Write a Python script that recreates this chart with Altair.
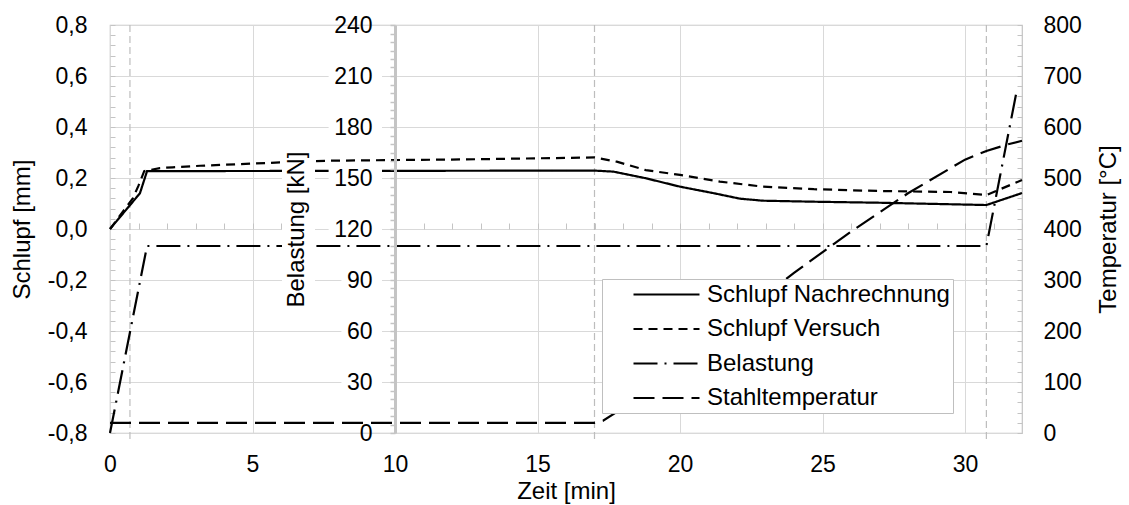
import altair as alt
import pandas as pd

FONT = "Liberation Sans"
FS = 23      # tick labels
FT = 24      # axis titles and legend
X_MAX = 32.0
W, H = 912, 408
GRID = "#d9d9d9"
FRAME = "#c4c4c4"

# ---- data -------------------------------------------------------------
series_names = ["Schlupf Nachrechnung", "Schlupf Versuch", "Belastung", "Stahltemperatur"]
dash_styles = [[1, 0], [9, 6], [24, 7, 2, 7], [21, 8]]

t_nach = [0.0, 0.9, 1.05, 1.3, 17.0, 17.66, 18.8, 20.0, 21.2, 22.1, 22.9, 24.7, 27.0, 30.75, 32.0]
s_nach = [0.0, 0.12, 0.14, 0.227, 0.229, 0.225, 0.199, 0.166, 0.140, 0.119, 0.111, 0.107, 0.103, 0.094, 0.141]

t_vers = [0.0, 0.8, 1.0, 1.2, 1.75, 2.2, 3.16, 5.96, 7.8, 12.5, 16.7, 17.0, 17.78, 18.8, 20.0,
          21.4, 22.9, 24.7, 27.0, 29.5, 30.75, 32.0]
s_vers = [0.0, 0.12, 0.17, 0.227, 0.239, 0.242, 0.248, 0.261, 0.268, 0.273, 0.280, 0.281, 0.264,
          0.231, 0.212, 0.186, 0.166, 0.156, 0.149, 0.145, 0.133, 0.192]

t_bel = [0.0, 1.3, 30.75, 31.8]
kn_bel = [0.0, 110.0, 110.0, 200.0]

t_temp = [0.0, 17.0, 17.3, 17.8, 18.5, 20.0, 22.0, 24.0, 26.0, 28.0, 30.0, 30.75, 31.5, 32.0]
c_temp = [20, 20, 24, 42, 72, 138, 226, 314, 395, 470, 536, 553, 566, 573]

event_times = [0.7, 17.0, 30.75]

schlupf_ticks = [-0.8, -0.6, -0.4, -0.2, 0.0, 0.2, 0.4, 0.6, 0.8]
schlupf_minor = [round(-0.8 + 0.04 * i, 2) for i in range(41)]
zeit_ticks = [0, 5, 10, 15, 20, 25, 30]
zeit_minor = list(range(0, 33))
bel_ticks = list(range(0, 241, 30))
bel_minor = list(range(0, 241, 5))
temp_ticks = list(range(0, 801, 100))
temp_minor = list(range(0, 801, 20))

BEL_AXIS_AT = 10.0  # minutes

# ---- frames -----------------------------------------------------------
df_s = pd.concat([
    pd.DataFrame({"t": t_nach, "v": s_nach, "Serie": series_names[0]}),
    pd.DataFrame({"t": t_vers, "v": s_vers, "Serie": series_names[1]}),
])
df_b = pd.DataFrame({"t": t_bel, "v": kn_bel, "Serie": series_names[2]})
df_t = pd.DataFrame({"t": t_temp, "v": c_temp, "Serie": series_names[3]})
df_ev = pd.DataFrame({"t": event_times})

px_per_min = W / X_MAX
px_per_kn = H / 240.0
axis_px = BEL_AXIS_AT * px_per_min
# white boxes behind the inner axis title and labels (as in the original)
mask_rows = [{"t": (axis_px - 113) / px_per_min, "t2": (axis_px - 80) / px_per_min, "v": 70, "v2": 177}]
for val in bel_ticks[1:-1]:
    w = len(str(val)) * 12.8 + 28
    mask_rows.append({"t": (axis_px - w) / px_per_min, "t2": (axis_px - 13) / px_per_min,
                      "v": val - 10 / px_per_kn, "v2": val + 10 / px_per_kn})
df_mask = pd.DataFrame(mask_rows)

xscale = alt.Scale(domain=[0, X_MAX], nice=False, zero=False)
dash_scale = alt.Scale(domain=series_names, range=dash_styles)
legend = alt.Legend(
    orient="none", legendX=492, legendY=254, title=None,
    symbolType="M-3,0H3", symbolSize=484, symbolStrokeWidth=2.2,
    symbolStrokeColor="black", symbolFillColor="transparent",
    labelFont=FONT, labelFontSize=FT, labelColor="black", labelLimit=500,
    fillColor="white", strokeColor="#bfbfbf", padding=3, rowPadding=9.5,
    symbolOffset=49, labelOffset=28,
)
dash_enc = alt.StrokeDash("Serie:N", scale=dash_scale, legend=legend)

txt = dict(labelFont=FONT, labelFontSize=FS, labelColor="black",
           titleFont=FONT, titleFontSize=FT, titleFontWeight="normal", titleColor="black")

def xenc(axis=None):
    return alt.X("t:Q", scale=xscale, axis=axis)

# vertical dashed marker lines
rules = alt.Chart(df_ev).mark_rule(color="#bdbdbd", strokeDash=[7, 4], strokeWidth=1.2).encode(
    x=xenc(), y=alt.value(0), y2=alt.value(H + 9))

# slip series (left axis)
schlupf = alt.Chart(df_s).mark_line(color="black", strokeWidth=2.2).encode(
    x=xenc(alt.Axis(orient="bottom", values=zeit_ticks, grid=True, gridColor=GRID,
                    ticks=False, tickSize=0, domain=False, labelPadding=20, labelFlush=False,
                    title="Zeit [min]", titlePadding=3, **txt)),
    y=alt.Y("v:Q", scale=alt.Scale(domain=[-0.8, 0.8], nice=False, zero=False),
            axis=alt.Axis(orient="left", values=schlupf_ticks, grid=True, gridColor=GRID,
                          ticks=False, tickSize=0, domain=False, labelPadding=23,
                          labelExpr="(datum.value < -1e-9 ? '-' : '') + replace(format(abs(datum.value), '.1f'), '.', ',')",
                          title="Schlupf [mm]", titlePadding=13, **txt)),
    strokeDash=dash_enc, detail="Serie:N",
)

# inner minor ticks on the left frame
ghost_left = alt.Chart(df_s).mark_line(strokeOpacity=0).encode(
    x=xenc(),
    y=alt.Y("v:Q", scale=alt.Scale(domain=[-0.8, 0.8], nice=False, zero=False),
            axis=alt.Axis(orient="left", offset=-5, values=schlupf_minor, ticks=True, tickSize=5,
                          tickColor=FRAME, labels=False, domain=False, grid=False, title=None)),
    detail="Serie:N",
)

# minute ticks along the zero line
ghost_x = alt.Chart(df_s).mark_line(strokeOpacity=0).encode(
    x=alt.X("t:Q", scale=xscale,
            axis=alt.Axis(orient="bottom", offset=-(H / 2 + 6), values=zeit_minor, ticks=True,
                          tickSize=6, tickColor=FRAME, labels=False, domain=False, grid=False,
                          title=None)),
    y=alt.Y("v:Q", scale=alt.Scale(domain=[-0.8, 0.8], nice=False, zero=False), axis=None),
    detail="Serie:N",
)

bel_axis = alt.Axis(orient="left", offset=-axis_px, values=bel_minor, labelOverlap=False,
                    labelExpr="datum.value % 30 == 0 ? format(datum.value, 'd') : ''",
                    ticks=True, tickSize=5, tickColor=FRAME, tickWidth=1.5,
                    domain=True, domainColor=FRAME, domainWidth=3, grid=False,
                    labelPadding=18, title="Belastung [kN]", titlePadding=25, zindex=1, **txt)
bel_scale = alt.Scale(domain=[0, 240], nice=False, zero=False)

bel_line = alt.Chart(df_b).mark_line(color="black", strokeWidth=2.2).encode(
    x=xenc(), y=alt.Y("v:Q", scale=bel_scale, axis=bel_axis), strokeDash=dash_enc)
bel_mask = alt.Chart(df_mask).mark_rect(fill="white", stroke=None).encode(
    x=xenc(), x2="t2:Q", y=alt.Y("v:Q", scale=bel_scale, axis=bel_axis), y2="v2:Q")
bel_layer = alt.layer(bel_line, bel_mask)

temp_scale = alt.Scale(domain=[0, 800], nice=False, zero=False)
temp = alt.Chart(df_t).mark_line(color="black", strokeWidth=2.2).encode(
    x=xenc(),
    y=alt.Y("v:Q", scale=temp_scale,
            axis=alt.Axis(orient="right", values=temp_ticks, grid=False, ticks=False, tickSize=0,
                          domain=False, labelPadding=21, title="Temperatur [°C]",
                          titleAngle=270, titlePadding=39, **txt)),
    strokeDash=dash_enc,
)

ghost_right = alt.Chart(df_t).mark_line(strokeOpacity=0).encode(
    x=xenc(),
    y=alt.Y("v:Q", scale=temp_scale,
            axis=alt.Axis(orient="right", offset=-5, values=temp_minor, ticks=True, tickSize=5,
                          tickColor=FRAME, labels=False, domain=False, grid=False, title=None)),
)

chart = alt.layer(
    rules, schlupf, ghost_left, ghost_x, bel_layer, temp, ghost_right
).resolve_scale(
    y="independent", x="independent"
).properties(
    width=W, height=H,
    autosize=alt.AutoSizeParams(type="none"),
    padding={"left": 110, "top": 25, "right": 107, "bottom": 72},
    background="white",
).configure_view(
    stroke=FRAME, strokeWidth=1.2
)

chart.save("out.html", embed_options={"renderer": "svg", "actions": False})
